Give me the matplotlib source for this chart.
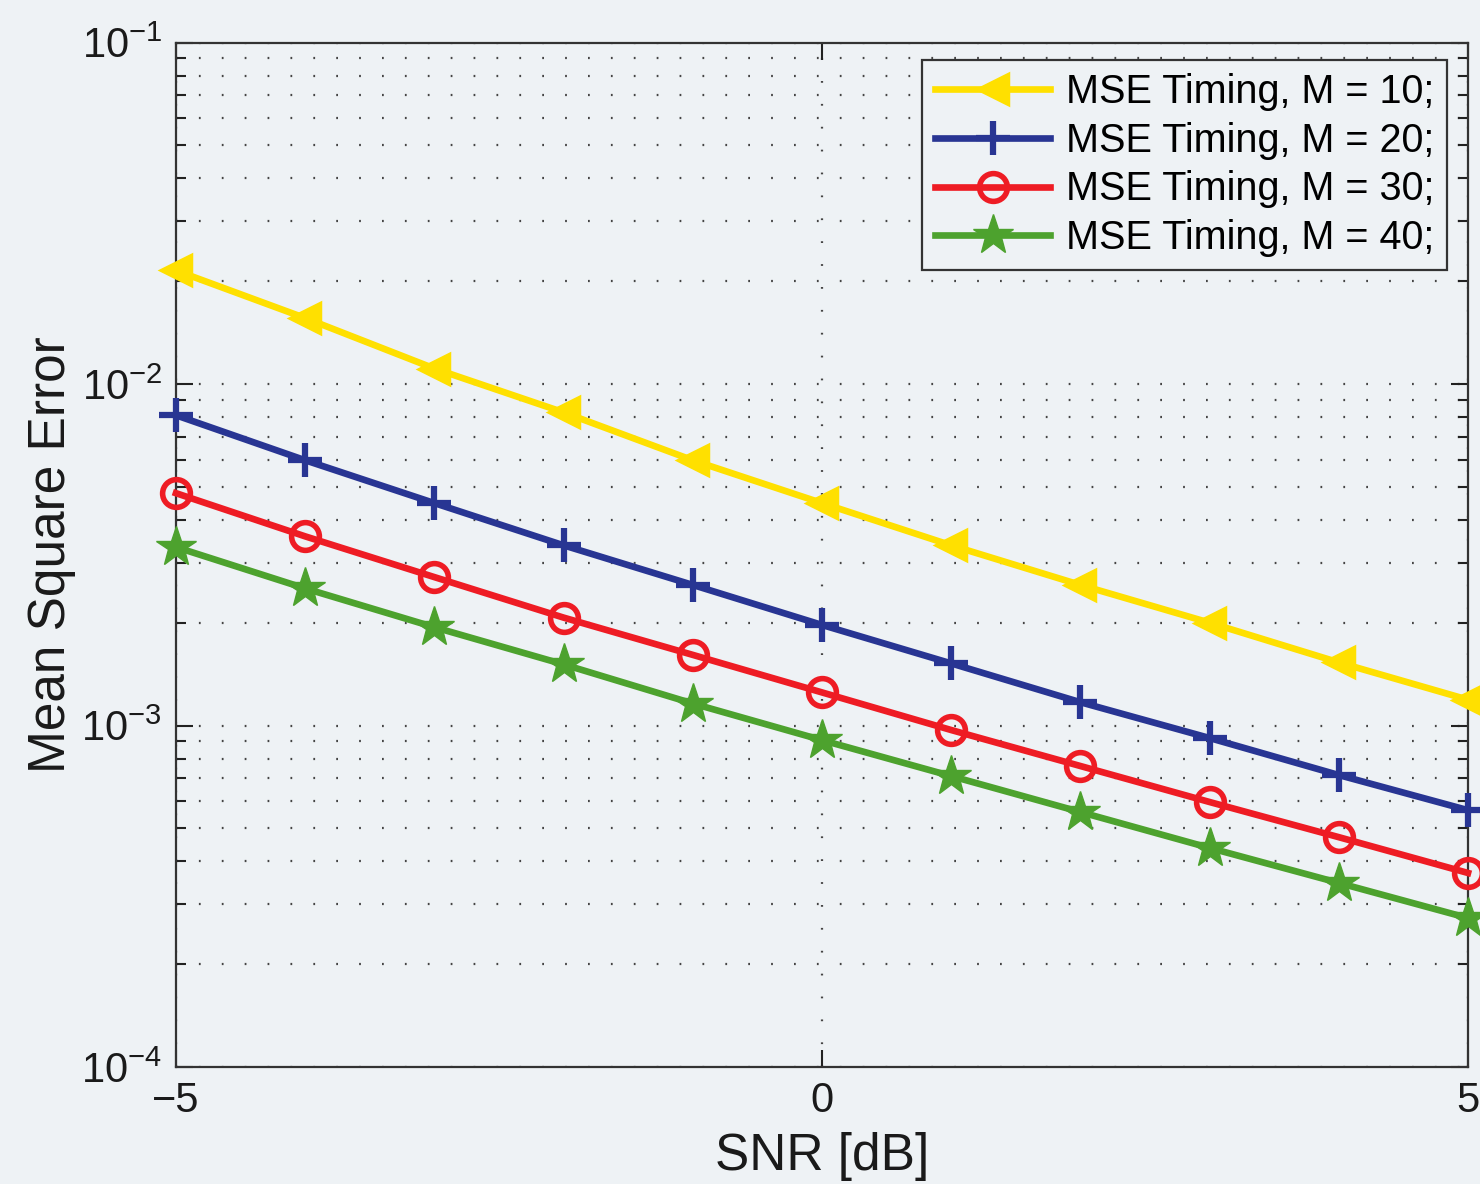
import numpy as np
import matplotlib
matplotlib.use("Agg")
import matplotlib.pyplot as plt
from matplotlib.ticker import LogLocator, FixedLocator, NullFormatter, LogFormatterSciNotation

plt.rcParams["font.family"] = ["Liberation Sans", "DejaVu Sans"]
plt.rcParams["mathtext.fontset"] = "custom"
plt.rcParams["mathtext.rm"] = "Liberation Sans"
plt.rcParams["mathtext.it"] = "Liberation Sans"
plt.rcParams["mathtext.bf"] = "Liberation Sans"

# SNR sweep and simulated timing MSE for each observation length M
snr_db = [-5, -4, -3, -2, -1, 0, 1, 2, 3, 4, 5]
mse_m10 = [0.0215, 0.0156, 0.0111, 0.00826, 0.00598, 0.00448, 0.00337, 0.00258, 0.00200, 0.00153, 0.00119]
mse_m20 = [0.0081, 0.00598, 0.00448, 0.00337, 0.00258, 0.00197, 0.00152, 0.00117, 0.000919, 0.000716, 0.000565]
mse_m30 = [0.00479, 0.00358, 0.00272, 0.00207, 0.00161, 0.00125, 0.00097, 0.000761, 0.000597, 0.000471, 0.00037]
mse_m40 = [0.00333, 0.00252, 0.00194, 0.00151, 0.00116, 0.000906, 0.000711, 0.000558, 0.000438, 0.000346, 0.000273]
labels = ["MSE Timing, M = 10;", "MSE Timing, M = 20;", "MSE Timing, M = 30;", "MSE Timing, M = 40;"]
x_ticks = [-5, 0, 5]

bg = "#eef2f5"
fig = plt.figure(figsize=(14.8, 11.84), dpi=100, facecolor=bg)
ax = fig.add_axes([0.1189, 0.0988, 0.8730, 0.8653], facecolor=bg)

styles = [
    dict(color="#ffe000", marker="<", ms=22, mew=2.5),
    dict(color="#283593", marker="+", ms=24, mew=4.5),
    dict(color="#ee1c24", marker="o", ms=20, mew=4, mfc="none"),
    dict(color="#4da22e", marker="*", ms=30, mew=1),
]
for y, lab, st in zip([mse_m10, mse_m20, mse_m30, mse_m40], labels, styles):
    ax.plot(snr_db, y, lw=4.8, label=lab, clip_on=False, zorder=3, **st)

ax.set_yscale("log")
ax.set_xlim(-5, 5)
ax.set_ylim(1e-4, 1e-1)
ax.xaxis.set_major_locator(FixedLocator(x_ticks))
ax.yaxis.set_major_locator(LogLocator(base=10, numticks=10))
ax.yaxis.set_minor_locator(LogLocator(base=10, subs=np.arange(2, 10), numticks=10))
ax.yaxis.set_minor_formatter(NullFormatter())
ax.yaxis.set_major_formatter(LogFormatterSciNotation())
ax.set_xticklabels(["\u22125", "0", "5"])

ax.tick_params(which="both", direction="in", top=True, right=True, width=1.5, colors="#222222",
               labelsize=30, labelcolor="#1a1a1a")
ax.tick_params(which="major", length=12, pad=10)
ax.tick_params(which="minor", length=7)
for s in ax.spines.values():
    s.set_linewidth(1.6)
    s.set_color("#333333")

dot = (0, (0.8, 9.5))
ax.grid(True, which="major", axis="both", color="#444444", lw=1.6, linestyle=dot)
ax.grid(True, which="minor", axis="y", color="#444444", lw=1.6, linestyle=dot)
ax.set_axisbelow(True)

ax.set_xlabel("SNR [dB]", fontsize=37, color="#1a1a1a", labelpad=8)
ax.set_ylabel("Mean Square Error", fontsize=37, color="#1a1a1a", labelpad=4)

leg = ax.legend(loc="upper right", bbox_to_anchor=(0.984, 0.983), borderaxespad=0,
                fontsize=28.5, handlelength=2.9, handletextpad=0.4, labelspacing=0.27,
                borderpad=0.33, fancybox=False, framealpha=1, facecolor=bg, edgecolor="#333333")
leg.get_frame().set_linewidth(1.6)

fig.savefig("out.png", dpi=100, facecolor=bg)
